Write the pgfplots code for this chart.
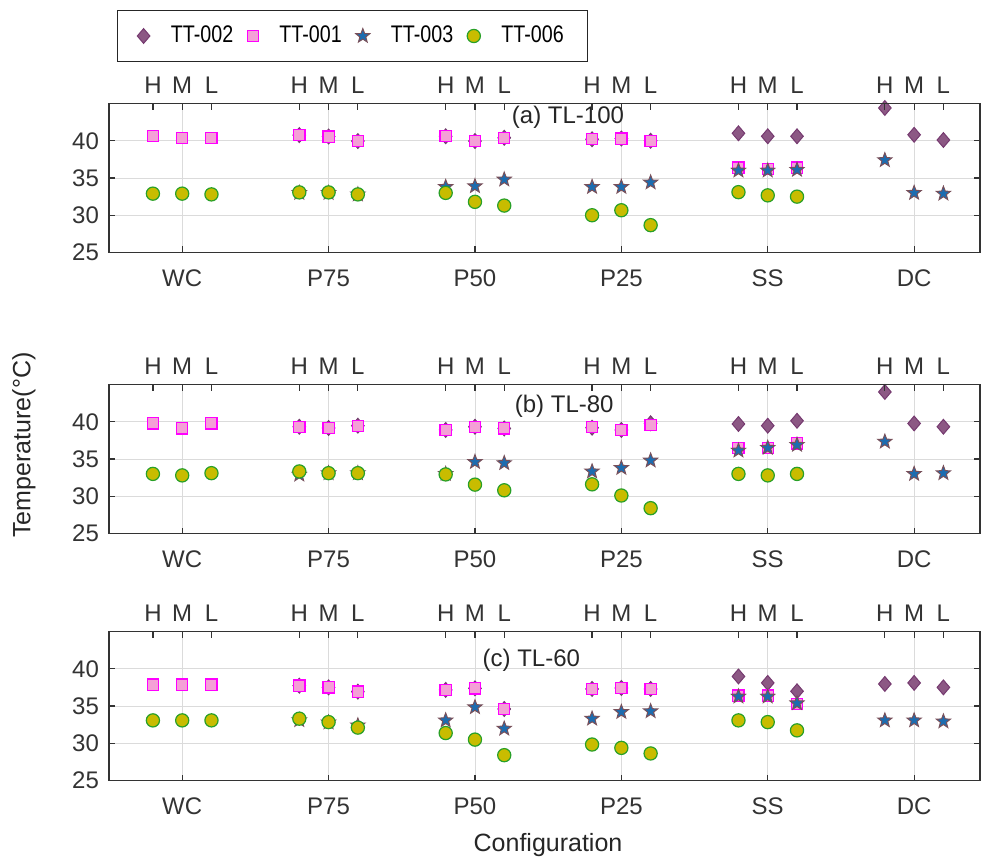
\documentclass[border=0pt]{standalone}
\usepackage{fontspec}
\setmainfont{Liberation Sans}
\newfontfamily\legfont[FakeStretch=0.82]{Liberation Sans}
\usepackage{pgfplots}
\pgfplotsset{compat=1.18}
\definecolor{cAfill}{RGB}{140,88,132}
\definecolor{cAedge}{RGB}{118,58,112}
\definecolor{cBfill}{RGB}{244,160,214}
\definecolor{cBedge}{RGB}{255,0,255}
\definecolor{cCfill}{RGB}{28,108,176}
\definecolor{cCedge}{RGB}{120,80,90}
\definecolor{cDfill}{RGB}{200,188,0}
\definecolor{cDedge}{RGB}{40,160,40}
\pgfdeclareplotmark{fstar}{%
  \pgfpathmoveto{\pgfpointpolar{90}{\pgfplotmarksize}}%
  \pgfpathlineto{\pgfpointpolar{126}{0.42\pgfplotmarksize}}%
  \pgfpathlineto{\pgfpointpolar{162}{\pgfplotmarksize}}%
  \pgfpathlineto{\pgfpointpolar{198}{0.42\pgfplotmarksize}}%
  \pgfpathlineto{\pgfpointpolar{234}{\pgfplotmarksize}}%
  \pgfpathlineto{\pgfpointpolar{270}{0.42\pgfplotmarksize}}%
  \pgfpathlineto{\pgfpointpolar{306}{\pgfplotmarksize}}%
  \pgfpathlineto{\pgfpointpolar{342}{0.42\pgfplotmarksize}}%
  \pgfpathlineto{\pgfpointpolar{18}{\pgfplotmarksize}}%
  \pgfpathlineto{\pgfpointpolar{54}{0.42\pgfplotmarksize}}%
  \pgfpathclose
  \pgfusepathqfillstroke
}
\pgfdeclareplotmark{fdiam}{%
  \pgfpathmoveto{\pgfqpoint{0pt}{\pgfplotmarksize}}%
  \pgfpathlineto{\pgfqpoint{0.85\pgfplotmarksize}{0pt}}%
  \pgfpathlineto{\pgfqpoint{0pt}{-\pgfplotmarksize}}%
  \pgfpathlineto{\pgfqpoint{-0.85\pgfplotmarksize}{0pt}}%
  \pgfpathclose
  \pgfusepathqfillstroke
}
\newcommand{\tf}{\fontsize{12}{14.4}\selectfont}
\pgfplotsset{
  panel/.style={
    scale only axis, width=435.5pt, height=74.5pt,
    xmin=0.5, xmax=6.45, ymin=25, ymax=45,
    ytick={25,30,35,40}, xtick={1,2,3,4,5,6},
    xticklabels={WC,P75,P50,P25,SS,DC},
    xtick pos=bottom, yticklabel pos=left,
    tick align=inside, major tick length=3pt,
    xmajorgrids, ymajorgrids,
    grid style={black!14, line width=0.4pt},
    axis line style={black!80, line width=0.6pt},
    tick style={black!80, line width=0.6pt},
    /pgf/number format/assume math mode=true,
    tick label style={font=\tf, text=black!80},
    xticklabel style={yshift=-5pt},
    yticklabel style={xshift=-1.5pt},
  },
  toppanel/.style={
    scale only axis, width=435.5pt, height=74.5pt,
    xmin=0.5, xmax=6.45, ymin=25, ymax=45,
    axis x line*=top, hide y axis,
    xtick={0.8,1,1.2,1.8,2,2.2,2.8,3,3.2,3.8,4,4.2,4.8,5,5.2,5.8,6,6.2},
    xticklabels={H,M,L,H,M,L,H,M,L,H,M,L,H,M,L,H,M,L},
    tick align=inside, major tick length=3pt,
    axis line style={black!80, line width=0.6pt},
    tick style={black!80, line width=0.6pt},
    tick label style={font=\tf, text=black!80},
    xticklabel style={yshift=1.5pt},
  },
  sA/.style={only marks, mark=fdiam, mark size=3.7pt, mark options={fill=cAfill, draw=cAedge, line width=0.5pt}},
  sB/.style={only marks, mark=square*, mark size=2.8pt, mark options={fill=cBfill, draw=cBedge, line width=0.6pt}},
  sC/.style={only marks, mark=fstar, mark size=3.7pt, mark options={fill=cCfill, draw=cCedge, line width=0.5pt}},
  sD/.style={only marks, mark=*, mark size=3.3pt, mark options={fill=cDfill, draw=cDedge, line width=0.6pt}},
}
\begin{document}
\begin{tikzpicture}
\useasboundingbox (0,0) rectangle (490.5pt,429.5pt);
% ---------------- panel (a)
\begin{axis}[panel, at={(54.5pt,303.25pt)},
  legend columns=4,
  legend style={at={(rel axis cs:0.2796,1.453)}, anchor=center, draw=black!85, line width=0.6pt,
    font=\legfont\fontsize{12}{14.4}\selectfont, inner xsep=10pt, inner ysep=6pt,
    /tikz/every odd column/.append style={column sep=8.5pt},
    /tikz/every even column/.append style={column sep=5pt}},
  legend cell align=left]
\addplot[sA] coordinates {(1.8,40.76) (2,40.57) (2.2,39.96) (2.8,40.6) (3,39.96) (3.2,40.4) (3.8,40.2) (4,40.3) (4.2,40.0) (4.8,41.0) (5,40.6) (5.2,40.6) (5.8,44.4) (6,40.8) (6.2,40.1)};
\addlegendentry{TT-002}
\addplot[sB] coordinates {(0.8,40.6) (1,40.4) (1.2,40.4) (1.8,40.76) (2,40.57) (2.2,39.96) (2.8,40.6) (3,39.96) (3.2,40.4) (3.8,40.2) (4,40.3) (4.2,40.0) (4.8,36.4) (5,36.2) (5.2,36.4)};
\addlegendentry{TT-001}
\addplot[sC] coordinates {(1.8,33.0) (2,33.0) (2.2,32.8) (2.8,33.8) (3,33.9) (3.2,34.8) (3.8,33.8) (4,33.8) (4.2,34.4) (4.8,36.0) (5,36.0) (5.2,36.1) (5.8,37.4) (6,33.0) (6.2,32.9)};
\addlegendentry{TT-003}
\addplot[sD] coordinates {(0.8,32.9) (1,32.9) (1.2,32.8) (1.8,33.07) (2,33.07) (2.2,32.8) (2.8,33.0) (3,31.8) (3.2,31.3) (3.8,30.0) (4,30.67) (4.2,28.67) (4.8,33.1) (5,32.67) (5.2,32.5)};
\addlegendentry{TT-006}
\node[anchor=west, font=\tf, text=black!85, inner sep=0pt] at (axis cs:3.25,43.1) {(a) TL-100};
\end{axis}
\begin{axis}[toppanel, at={(54.5pt,303.25pt)}]
\end{axis}
% ---------------- panel (b)
\begin{axis}[panel, at={(54.5pt,162.75pt)}]
\addplot[sA] coordinates {(1.8,39.33) (2,39.16) (2.2,39.47) (2.8,38.9) (3,39.33) (3.2,39.1) (3.8,39.2) (4,38.9) (4.2,39.8) (4.8,39.7) (5,39.47) (5.2,40.13) (5.8,44.0) (6,39.77) (6.2,39.33)};
\addplot[sB] coordinates {(0.8,39.77) (1,39.1) (1.2,39.77) (1.8,39.33) (2,39.16) (2.2,39.47) (2.8,38.9) (3,39.33) (3.2,39.1) (3.8,39.33) (4,38.9) (4.2,39.6) (4.8,36.5) (5,36.5) (5.2,37.1)};
\addplot[sC] coordinates {(1.8,32.9) (2,33.1) (2.2,33.1) (2.8,33.0) (3,34.6) (3.2,34.45) (3.8,33.33) (4,33.8) (4.2,34.8) (4.8,36.13) (5,36.5) (5.2,36.9) (5.8,37.33) (6,33.0) (6.2,33.1)};
\addplot[sD] coordinates {(0.8,33.0) (1,32.8) (1.2,33.1) (1.8,33.33) (2,33.1) (2.2,33.1) (2.8,32.93) (3,31.56) (3.2,30.8) (3.8,31.6) (4,30.1) (4.2,28.4) (4.8,33.0) (5,32.8) (5.2,33.0)};
\node[anchor=west, font=\tf, text=black!85, inner sep=0pt] at (axis cs:3.27,42.1) {(b) TL-80};
\end{axis}
\begin{axis}[toppanel, at={(54.5pt,162.75pt)}]
\end{axis}
% ---------------- panel (c)
\begin{axis}[panel, at={(54.5pt,39.25pt)}]
\addplot[sA] coordinates {(1.8,37.73) (2,37.5) (2.2,36.93) (2.8,37.16) (3,37.37) (3.2,34.6) (3.8,37.29) (4,37.42) (4.2,37.29) (4.8,38.97) (5,38.1) (5.2,36.98) (5.8,37.96) (6,38.1) (6.2,37.5)};
\addplot[sB] coordinates {(0.8,37.87) (1,37.87) (1.2,37.87) (1.8,37.73) (2,37.5) (2.2,36.93) (2.8,37.16) (3,37.37) (3.2,34.6) (3.8,37.29) (4,37.42) (4.2,37.29) (4.8,36.4) (5,36.4) (5.2,35.3)};
\addplot[sC] coordinates {(1.8,33.1) (2,32.8) (2.2,32.4) (2.8,33.07) (3,34.84) (3.2,31.96) (3.8,33.3) (4,34.2) (4.2,34.3) (4.8,36.27) (5,36.27) (5.2,35.37) (5.8,33.07) (6,33.07) (6.2,32.93)};
\addplot[sD] coordinates {(0.8,33.07) (1,33.07) (1.2,33.07) (1.8,33.3) (2,32.84) (2.2,32.1) (2.8,31.37) (3,30.49) (3.2,28.4) (3.8,29.83) (4,29.38) (4.2,28.63) (4.8,33.07) (5,32.84) (5.2,31.73)};
\node[anchor=west, font=\tf, text=black!85, inner sep=0pt] at (axis cs:3.05,41.2) {(c) TL-60};
\end{axis}
\begin{axis}[toppanel, at={(54.5pt,39.25pt)}]
\end{axis}
\node[rotate=90, font=\fontsize{12.5}{15}\selectfont, text=black!85] at (12pt,207pt) {Temperature(°C)};
\node[font=\fontsize{12.5}{15}\selectfont, text=black!85] at (274pt,7pt) {Configuration};
\end{tikzpicture}
\end{document}
